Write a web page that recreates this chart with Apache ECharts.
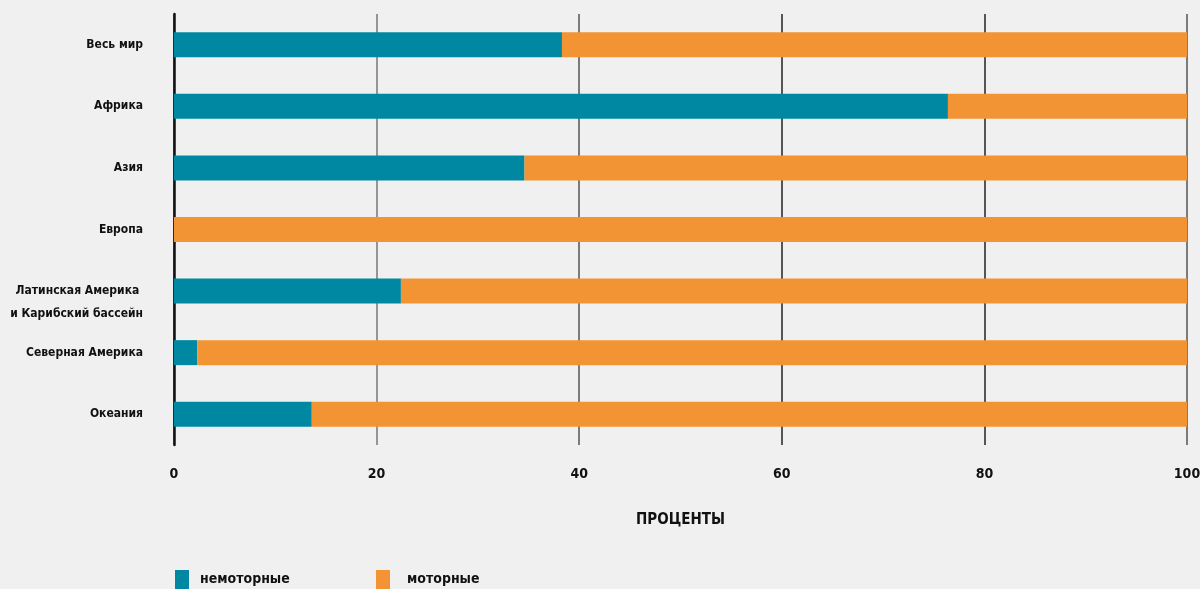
<!DOCTYPE html>
<html><head><meta charset="utf-8">
<script src="https://cdn.jsdelivr.net/npm/echarts@6/dist/echarts.min.js"></script>
<style>html,body{margin:0;padding:0;background:#f0f0f0}#c{width:1200px;height:589px}</style>
</head><body><div id="c"></div>
<script>
const categories = ['Весь мир','Африка','Азия','Европа','Латинская Америка \nи Карибский бассейн','Северная Америка','Океания'];
const nonMotorized = [38.3, 76.4, 34.6, 0, 22.4, 2.3, 13.6];
const motorized = [61.7, 23.6, 65.4, 100, 77.6, 97.7, 86.4];
const xTicks = [0, 20, 40, 60, 80, 100];
const seriesNames = ['немоторные', 'моторные'];

const FONT = '"Liberation Sans Narrow", "DejaVu Sans Condensed", sans-serif';
const chart = echarts.init(document.getElementById('c'));
chart.setOption({
  backgroundColor: '#f0f0f0',
  animation: false,
  textStyle: { fontFamily: FONT },
  grid: { left: 174, right: 13, top: 14, bottom: 144, containLabel: false, outerBoundsMode: 'none' },
  legend: [
    { data: [seriesNames[0]], left: 175, top: 570, padding: 0, icon: 'rect', itemWidth: 14, itemHeight: 19,
      textStyle: { fontFamily: FONT, fontWeight: 'bold', fontSize: 14, color: '#111', padding: [0,0,0,6] } },
    { data: [seriesNames[1]], left: 376, top: 570, padding: 0, icon: 'rect', itemWidth: 14, itemHeight: 19,
      textStyle: { fontFamily: FONT, fontWeight: 'bold', fontSize: 14, color: '#111', padding: [0,0,0,12] } }
  ],
  xAxis: {
    type: 'value', min: xTicks[0], max: xTicks[xTicks.length - 1], interval: 20,
    name: 'ПРОЦЕНТЫ', nameLocation: 'middle', nameGap: 68,
    nameTextStyle: { fontFamily: FONT, fontWeight: 'bold', fontSize: 15, color: '#111' },
    axisLine: { show: false }, axisTick: { show: false },
    axisLabel: { margin: 22, fontFamily: FONT, fontWeight: 'bold', fontSize: 14, color: '#111' },
    splitLine: { show: true, lineStyle: { width: 1.5, color: ['#555', '#777', '#555', '#222', '#222', '#555'] } }
  },
  yAxis: {
    type: 'category', data: categories, inverse: true,
    axisLine: { show: true, lineStyle: { color: '#111', width: 2.5 } },
    axisTick: { show: false },
    axisLabel: { margin: 31, fontFamily: FONT, fontWeight: 'bold', fontSize: 12, color: '#111', lineHeight: 23, align: 'right',
      formatter: v => v.indexOf('\n') >= 0 ? ' \n' + v : v }
  },
  series: [
    { name: seriesNames[0], type: 'bar', stack: 'total', data: nonMotorized, barWidth: 25,
      itemStyle: { color: '#0088a3' } },
    { name: seriesNames[1], type: 'bar', stack: 'total', data: motorized, barWidth: 25,
      itemStyle: { color: '#f29434' } }
  ]
});
</script></body></html>
